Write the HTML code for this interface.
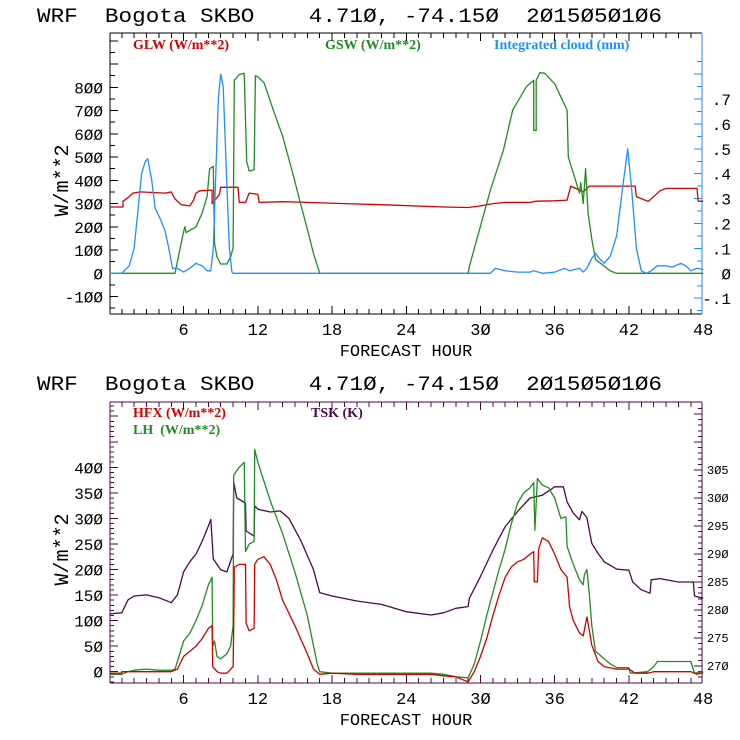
<!DOCTYPE html>
<html><head><meta charset="utf-8">
<style>
html,body{margin:0;padding:0;background:#fff;}
svg{display:block;}
.t{font-family:"Liberation Mono",monospace;white-space:pre;}
.lg{font-family:"Liberation Serif",serif;font-weight:bold;font-size:14px;white-space:pre;}
</style></head>
<body>
<svg id="chart" width="740" height="740" viewBox="0 0 740 740" xmlns="http://www.w3.org/2000/svg" xml:space="preserve">
<text class="t" x="37" y="22" font-size="20" textLength="625" lengthAdjust="spacingAndGlyphs">WRF  Bogota SKBO    4.71Ø, -74.15Ø  2Ø15Ø5Ø1Ø6</text>
<text class="t" x="37" y="390" font-size="20" textLength="625" lengthAdjust="spacingAndGlyphs">WRF  Bogota SKBO    4.71Ø, -74.15Ø  2Ø15Ø5Ø1Ø6</text>
<text class="lg" x="133" y="49" fill="#d00000">GLW (W/m**2)</text>
<text class="lg" x="325" y="49" fill="#228b22">GSW (W/m**2)</text>
<text class="lg" x="494" y="49" fill="#1e8fff">Integrated cloud (mm)</text>
<text class="lg" x="133" y="417" fill="#d00000">HFX (W/m**2)</text>
<text class="lg" x="133" y="434" fill="#228b22">LH  (W/m**2)</text>
<text class="lg" x="311" y="417" fill="#4a0a4a">TSK (K)</text>
<g id="g"></g>
</svg>
<script>
// ---- data ----
const xTickLabels = [6, 12, 18, 24, 30, 36, 42, 48];
const topLeftTicks = [800, 700, 600, 500, 400, 300, 200, 100, 0, -100];
const topRightTicks = [0.7, 0.6, 0.5, 0.4, 0.3, 0.2, 0.1, 0, -0.1];
const botLeftTicks = [400, 350, 300, 250, 200, 150, 100, 50, 0];
const botRightTicks = [305, 300, 295, 290, 285, 280, 275, 270];

const glwHours = [0,1.1,1.1,1.5,1.9,2.5,4.5,5,5.3,5.8,6.5,6.8,7,7.3,8.3,8.3,8.9,9,10.4,10.5,11,11.3,12,12.1,14,16,19,22,27,29,30,31,32,34,34.5,36,37,37.3,38.3,38.8,42.5,42.6,43.5,43.6,44.5,45,47.5,47.6,48];
const glwValues = [285,285,310,325,345,350,345,350,320,295,290,315,345,355,358,300,340,370,370,305,305,345,340,305,308,305,300,295,285,283,290,300,305,305,310,312,315,375,350,375,375,330,310,310,355,365,365,310,310];

const gswHours = [0,5.3,6,6.1,6.2,7,7.5,7.9,8.1,8.4,8.5,8.7,9,9.5,9.8,10,10.1,10.5,10.9,11.1,11.3,11.7,11.8,12,12.5,13.25,14,14.9,15.4,16,16.5,17,29,29.1,30.8,31.85,32.6,33.7,34.3,34.3,34.5,34.5,34.8,35.2,36,37,37.1,38,38.1,38.3,38.5,38.7,39,39.3,40,40.5,41,48];
const gswValues = [0,0,180,200,175,200,260,330,450,460,130,70,40,40,70,110,830,855,860,480,440,445,850,845,820,702,590,415,310,190,85,0,0,30,358,530,702,802,830,615,615,830,863,860,815,702,500,345,390,300,450,258,147,60,30,10,0,0];

const cloudHours = [0,1,1.2,1.6,2,2.3,2.6,2.9,3.1,3.4,3.7,4.1,4.5,4.8,5.1,5.5,6,6.5,7,7.5,7.9,8.2,8.4,8.6,8.8,9,9.2,9.5,9.7,9.9,10,30.8,31.2,32,33,34,34.3,35,36,36.8,37.2,38,38.3,38.6,39,39.3,39.6,40,40.5,41,41.5,41.9,42.2,42.6,43,43.4,43.8,44.3,45,45.5,46.2,46.6,47,47.5,48];
const cloudValues = [0,0,0.01,0.03,0.1,0.25,0.4,0.45,0.46,0.38,0.26,0.22,0.17,0.1,0.02,0.02,0.005,0.02,0.04,0.03,0.01,0.01,0.1,0.4,0.7,0.8,0.75,0.35,0.1,0.005,0,0,0.02,0.01,0.005,0.005,0.01,0,0.005,0.02,0.01,0.02,0.005,0.02,0.06,0.08,0.06,0.04,0.07,0.15,0.35,0.5,0.35,0.1,0.01,0,0.01,0.03,0.03,0.025,0.04,0.03,0.01,0.02,0.015];

const hfxHours = [0,1,1,4,5,5.5,6,6.5,7,7.5,8,8.3,8.35,8.7,9,9.5,10,10.05,10.1,10.5,11,11.05,11.3,11.7,11.75,12,12.5,13,13.5,14,15,16,16.5,17,18,20,24,26,27,28,29,29.5,30,30.5,31,31.5,32,32.5,33,33.5,34,34.3,34.35,34.6,34.7,35,35.5,36,36.5,37,37.2,37.5,38,38.3,38.6,38.7,39,39.5,40,41,42,42.5,43.5,44,47,47.5,48];
const hfxValues = [-3,-3,0,0,0,5,30,40,50,65,85,90,10,0,-3,-3,10,90,205,210,210,95,80,85,210,220,225,210,180,140,90,35,5,-5,-3,-5,-5,-5,-8,-10,-20,0,30,65,110,150,185,205,215,220,230,235,176,176,240,262,255,230,200,185,127,100,76,70,107,95,52,20,10,5,5,-3,-3,0,0,-5,-2];

const lhHours = [0,1,1.5,2,3,4,5,5.3,5.5,6,6.5,7,7.5,8,8.3,8.35,8.5,8.7,9,9.5,9.8,10,10.05,10.5,10.9,11,11.3,11.7,11.75,12,13,14,15,16,16.8,17,18,24,26,27,28,29,29.5,30,30.5,31,31.5,32,32.5,33,33.5,34,34.3,34.4,34.6,35,35.5,36,36.5,36.9,37,37.5,38,38.3,38.4,38.6,38.8,39,39.3,40,40.5,41,42,42.1,43.5,44,44.3,47,47.3,48];
const lhValues = [-5,-5,0,3,5,3,3,5,20,60,75,100,130,170,185,50,60,30,25,35,50,90,385,400,410,235,250,255,435,410,335,270,195,110,15,0,-3,-3,-3,-5,-10,-12,15,60,110,155,200,240,290,330,350,360,370,277,378,365,360,340,300,303,245,210,180,170,190,200,150,90,40,25,15,8,8,-3,0,10,20,20,-3,0];

const tskHours = [0,1,1.5,2,3,4,5,5.5,6,6.5,7,7.5,8,8.2,8.4,9,9.5,10,10.05,10.3,11,11.05,11.7,11.75,12,13,13.8,14.5,15.5,16.5,17,18,20,22,24,26,27,28,29,29.1,30,31,32,33,34,35,36,36.7,37,37.5,38,38.2,38.6,39,39.5,40,41,42,42.3,43,43.7,43.8,44.5,46,47.2,47.3,48];
const tskValues = [279.3,279.5,281.8,282.5,282.7,282.2,281.3,282.7,286.8,288.6,290,292.3,295,296.2,289.1,287.2,286.8,290,302.8,300,299.1,294.1,293.2,298.6,298,297.5,297.7,296.4,292.3,287.2,283.1,282.5,281.6,281,279.7,279.1,279.5,280.3,280.6,282.1,286,290.7,294.9,297.6,300,300.5,302,302,299.3,297.3,296.1,297.6,296.5,291.9,290.1,288.6,287.3,287.1,285,283.6,283,285.4,285.6,285,285,282.5,282.1];

// ---- layout ----
const NS = "http://www.w3.org/2000/svg";
const G = document.getElementById('g');
const X0 = 109.4, XS = 12.37, XL = 110, XR = 702;
const xf = h => X0 + h * XS;
const topY = v => 273.3 - v * 0.2325;
const cloudY = v => 273.3 - v * 249;
const botY = v => 671.7 - v * 0.511;
const tskY = t => 470 + (305 - t) * 5.6;

function el(tag, attrs) {
  const e = document.createElementNS(NS, tag);
  for (const k in attrs) e.setAttribute(k, attrs[k]);
  G.appendChild(e);
  return e;
}
function line(x1, y1, x2, y2, c) { return el('line', {x1, y1, x2, y2, stroke: c, 'stroke-width': 1, 'shape-rendering': 'crispEdges'}); }
function txt(x, y, s, anchor, size) {
  const t = el('text', {x, y, 'text-anchor': anchor, 'font-size': size, 'font-family': '"Liberation Mono", monospace', fill: '#000'});
  t.textContent = String(s).replace(/0/g, '\u00d8');
  return t;
}

function panel(top, bot, frameCol, rightCol, prefix) {
  line(XL, top, XR, top, frameCol);
  line(XL, bot, XR, bot, frameCol);
  line(XL, top, XL, bot, frameCol);
  const r = line(XR, top, XR, bot, rightCol);
  
  
  for (let h = 1; h < 48; h++) {
    const len = h % 6 === 0 ? 8 : 5;
    line(xf(h), bot, xf(h), bot - len, frameCol);
    line(xf(h), top, xf(h), top + len, frameCol);
  }
  xTickLabels.forEach(h => {
    const t = txt(xf(h), bot + 21, String(h), 'middle', 17);
    
    
  });
  const xt = txt(406, bot + 42, 'FORECAST HOUR', 'middle', 17);
  
  
  const yt = txt(0, 0, 'W/m**2', 'middle', 20);
  yt.setAttribute('transform', 'translate(68,' + ((top + bot) / 2 + 7) + ') rotate(-90)');
  
  
}

function series(hours, vals, yfun, color, name) {
  const pts = hours.map((h, i) => xf(h).toFixed(1) + ',' + yfun(vals[i]).toFixed(1)).join(' ');
  const p = el('polyline', {points: pts, fill: 'none', stroke: color, 'stroke-width': 1.3, 'stroke-linejoin': 'round'});
  
  
}

// top panel
panel(33, 314, '#000', '#1e8fff', 'top');
for (let v = -150; v <= 1000; v += 50) {
  const y = topY(v); if (y < 34 || y > 313) continue;
  line(XL, y, XL + (v % 100 === 0 ? 8 : 5), y, '#000');
}
topLeftTicks.forEach(v => {
  const t = txt(103, topY(v) + 6, String(v), 'end', 16);
  
  
});
for (let k = -3; k <= 17; k++) {
  const y = cloudY(k * 0.05); if (y < 34 || y > 313) continue;
  line(XR, y, XR - (k % 2 === 0 ? 8 : 5), y, '#1e8fff');
}
topRightTicks.forEach(v => {
  const s = v === 0 ? '0' : (v < 0 ? '-' : '') + '.' + Math.round(Math.abs(v) * 10);
  const t = txt(731, cloudY(v) + 6, s, 'end', 16);
  
  
});
series(glwHours, glwValues, topY, '#d00000', 'glw-line');
series(gswHours, gswValues, topY, '#228b22', 'gsw-line');
series(cloudHours, cloudValues, cloudY, '#1e8fff', 'cloud-line');

// bottom panel
const PUR = '#4a0a4a';
panel(402, 683, PUR, PUR, 'bottom');
for (let v = -20; v <= 560; v += 10) {
  const y = botY(v); if (y < 403 || y > 682) continue;
  line(XL, y, XL + (v % 50 === 0 ? 8 : 4), y, PUR);
}
botLeftTicks.forEach(v => {
  const t = txt(103, botY(v) + 6, String(v), 'end', 16);
  
  
});
for (let k = 267; k <= 318; k++) {
  const y = tskY(k); if (y < 403 || y > 682) continue;
  line(XR, y, XR - (k % 5 === 0 ? 8 : 4), y, PUR);
}
botRightTicks.forEach(v => {
  const t = txt(707, tskY(v) + 4, String(v), 'start', 12);
  
  
});
series(tskHours, tskValues, tskY, PUR, 'tsk-line');
series(lhHours, lhValues, botY, '#228b22', 'lh-line');
series(hfxHours, hfxValues, botY, '#d00000', 'hfx-line');
</script>
</body></html>
